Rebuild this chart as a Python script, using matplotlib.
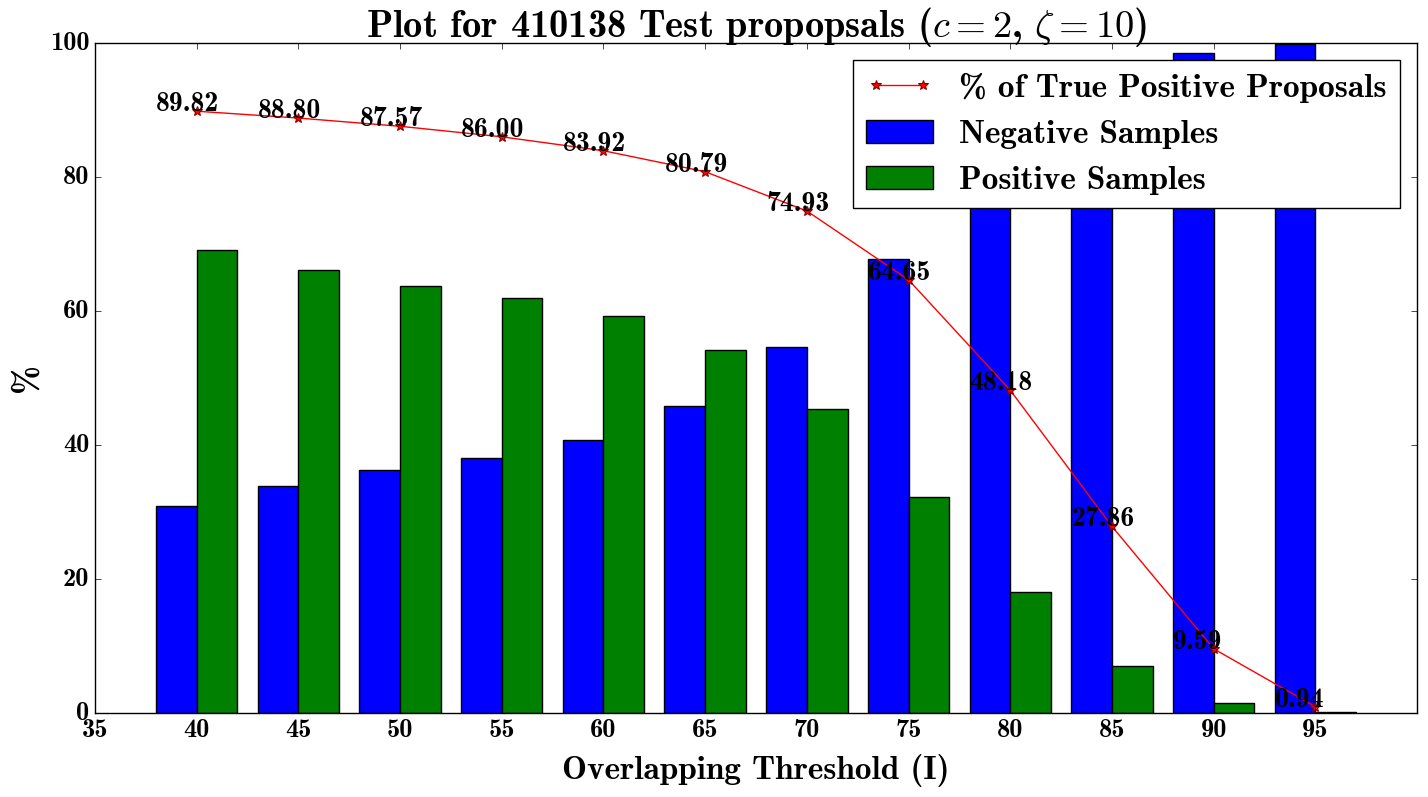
import matplotlib
matplotlib.use("Agg")
import matplotlib.pyplot as plt
import numpy as np

# Data
thresholds = [40, 45, 50, 55, 60, 65, 70, 75, 80, 85, 90, 95]
negative_samples = [30.9, 33.9, 36.2, 38.1, 40.7, 45.8, 54.7, 67.8, 81.9, 93.0, 98.5, 99.9]
positive_samples = [69.1, 66.1, 63.8, 61.9, 59.3, 54.2, 45.3, 32.2, 18.1, 7.0, 1.5, 0.1]
true_positive_pct = [89.82, 88.80, 87.57, 86.00, 83.92, 80.79, 74.93, 64.65, 48.18, 27.86, 9.59, 0.94]
x_ticks = [35, 40, 45, 50, 55, 60, 65, 70, 75, 80, 85, 90, 95]
y_ticks = [0, 20, 40, 60, 80, 100]

plt.style.use("classic")
plt.rcParams["font.family"] = ["cmb10", "DejaVu Serif"]
plt.rcParams["mathtext.fontset"] = "cm"
plt.rcParams["axes.unicode_minus"] = False

fig = plt.figure(figsize=(14.28, 7.97), dpi=100)
fig.patch.set_facecolor("white")
ax = fig.add_axes([95 / 1428, 1 - 713 / 797, (1417 - 95) / 1428, (713 - 43) / 797])

x = np.array(thresholds, dtype=float)
w = 2.0
line, = ax.plot(x, true_positive_pct, color="red", marker="*", markersize=7,
                markerfacecolor="red", markeredgecolor="darkred", markeredgewidth=0.8,
                linewidth=1, label="% of True Positive Proposals")
ax.bar(x - w, negative_samples, width=w, align="edge", color="blue",
       edgecolor="black", linewidth=1, label="Negative Samples")
ax.bar(x, positive_samples, width=w, align="edge", color="green",
       edgecolor="black", linewidth=1, label="Positive Samples")

for xi, yi in zip(x, true_positive_pct):
    ax.text(xi - 2, yi, "%.2f" % yi, fontsize=20, ha="left", va="baseline")

ax.set_xlim(35, 100)
ax.set_ylim(0, 100)
ax.set_xticks(x_ticks)
ax.set_yticks(y_ticks)
ax.tick_params(labelsize=19, direction="in", top=True, right=True)

ax.set_xlabel("Overlapping Threshold (I)", fontsize=24, labelpad=9)
ax.set_ylabel("%", fontsize=25)
ax.set_title(r"Plot for 410138 Test propopsals ($c=2$, $\zeta=10$)", fontsize=27.7, pad=4)

leg = ax.legend(loc="upper right", fontsize=24, numpoints=2, fancybox=False,
                borderaxespad=0.5)
leg.get_frame().set_edgecolor("black")

fig.savefig("out.png", dpi=100, facecolor="white")
